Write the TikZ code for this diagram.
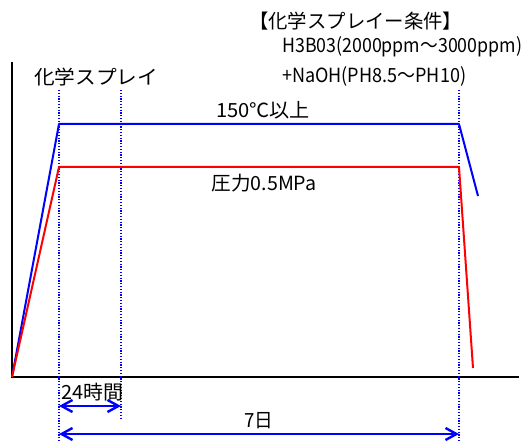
\documentclass[tikz,border=0pt]{standalone}
\usepackage{fontspec}
\usepackage{graphicx}
\setmainfont{Noto Sans CJK JP}
\usetikzlibrary{arrows.meta}
\newcommand{\fitw}[2]{\resizebox{#1}{\height}{#2}}
\begin{document}
\begin{tikzpicture}[x=1pt,y=-1pt,
  axis/.style={line width=2.2pt,black},
  guide/.style={blue,line width=1.4pt,dash pattern=on 1.2pt off 1.6pt},
  templine/.style={blue,line width=2pt},
  presline/.style={red,line width=2pt},
  dimarrow/.style={blue,line width=2.4pt,{Straight Barb[length=11pt,width=12pt,line width=2.4pt]}-{Straight Barb[length=11pt,width=12pt,line width=2.4pt]}},
  lbl/.style={inner sep=0pt,font=\fontsize{19.5}{22}\selectfont}]
\useasboundingbox (0,0) rectangle (527,443);
% axes
\coordinate (O) at (12,377);
\coordinate (ytop) at (12,62);
\coordinate (xend) at (519,377);
\draw[axis] (ytop) -- (O) -- (xend);
% guides
\coordinate (g1t) at (59,90);  \coordinate (g1b) at (59,441);
\coordinate (g2t) at (121,90); \coordinate (g2b) at (121,418);
\coordinate (g3t) at (459,90); \coordinate (g3b) at (459,441);
\draw[guide] (g1t) -- (g1b);
\draw[guide] (g2t) -- (g2b);
\draw[guide] (g3t) -- (g3b);
% temperature
\coordinate (b1) at (59,124); \coordinate (b2) at (459,124); \coordinate (b3) at (478,196);
\draw[templine,line join=round] (O) -- (b1) -- (b2) -- (b3);
% pressure
\coordinate (r1) at (59,167); \coordinate (r2) at (459,167); \coordinate (r3) at (473,368);
\draw[presline,line join=round] (O) -- (r1) -- (r2) -- (r3);
% dimension arrows
\coordinate (a1l) at (59,406); \coordinate (a1r) at (121,406);
\coordinate (a2l) at (59,434); \coordinate (a2r) at (459,434);
\draw[dimarrow] (a1l) -- (a1r);
\draw[dimarrow] (a2l) -- (a2r);
% labels
\node[lbl,anchor=west] (cond) at (249,21) {\fitw{213pt}{【化学スプレイー条件】}};
\node[lbl,anchor=west] (h3) at (282,47) {\fitw{240pt}{H3B03(2000ppm～3000ppm)}};
\node[lbl,anchor=west] (naoh) at (282,76) {\fitw{184pt}{+NaOH(PH8.5～PH10)}};
\node[lbl,anchor=west] (spray) at (34,77) {\fitw{124pt}{化学スプレイ}};
\node[lbl] (temp) at (263,110) {\fitw{94pt}{150℃以上}};
\node[lbl] (pres) at (264,183) {\fitw{105pt}{圧力0.5MPa}};
\node[lbl] (h24) at (92,392) {\fitw{62pt}{24時間}};
\node[lbl] (d7) at (259,421) {\fitw{29pt}{7日}};
\end{tikzpicture}
\end{document}
